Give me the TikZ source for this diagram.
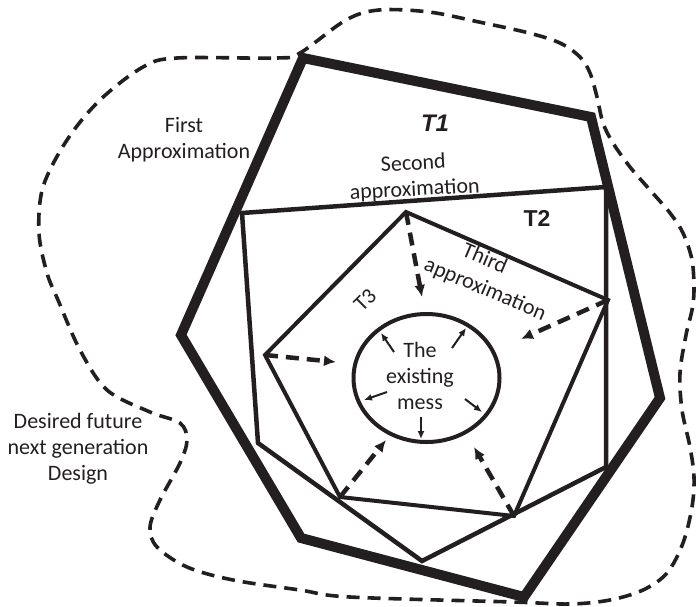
\documentclass[tikz,border=0pt]{standalone}
\usepackage{fontspec}
\setmainfont{Carlito}
\newfontfamily\arialfont{Liberation Sans}
\usetikzlibrary{arrows.meta}
\definecolor{ink}{HTML}{231F20}
\begin{document}
\begin{tikzpicture}[x=1pt,y=-1pt,
  txt/.style={font=\fontsize{22}{26}\selectfont, align=center, inner sep=0pt, text=ink},
  tbold/.style={font=\arialfont\bfseries\fontsize{23}{26}\selectfont, inner sep=0pt, text=ink},
  thickpoly/.style={draw=ink, line width=10pt, line join=miter},
  midpoly/.style={draw=ink, line width=4.5pt, line join=miter},
  innerpoly/.style={draw=ink, line width=4pt, line join=miter},
  blob/.style={draw=ink, line width=3.6pt, dash pattern=on 13pt off 8pt},
  darrow/.style={draw=ink, line width=4.5pt, dash pattern=on 13pt off 8pt, -{Latex[length=12pt,width=11pt]}},
  sarrow/.style={draw=ink, line width=2pt, -{Latex[length=8pt,width=7pt]}}]
\useasboundingbox (0,0) rectangle (696,606);

% outer dashed boundary
\draw[blob] plot[smooth cycle, tension=0.55] coordinates {
 (177,58) (277,58) (300,53) (346,20) (379,10) (429,12) (479,22) (529,33) (560,43)
 (580,57) (590,73) (597,97) (603,123) (613,143) (630,167) (650,190) (670,213)
 (683,233) (692,260) (694,290) (692,310) (686,335) (680,373) (682,410) (690,447)
 (694,477) (692,507) (683,543) (667,573) (643,590) (610,600) (570,604) (513,602)
 (350,597) (300,590) (233,580) (187,567) (157,547) (150,527) (160,500) (180,463)
 (187,440) (180,423) (150,412) (107,390) (80,350) (58,300) (47,273) (39,233)
 (43,187) (67,140) (100,100) (143,67)};

% first approximation (T1)
\coordinate (A) at (303,58);
\coordinate (B) at (591,117);
\coordinate (C) at (660,398);
\coordinate (D) at (524,597);
\coordinate (E) at (301,538);
\coordinate (F) at (181,335);
\draw[thickpoly] (A) -- (B) -- (C) -- (D) -- (E) -- (F) -- cycle;

% second approximation (T2)
\coordinate (G) at (242,213);
\coordinate (H) at (606,187);
\coordinate (I) at (606,467);
\coordinate (J) at (422,561);
\coordinate (K) at (258,443);
\draw[midpoly] (G) -- (H) -- (I) -- (J) -- (K) -- cycle;

% third approximation (T3)
\coordinate (L) at (406,212);
\coordinate (M) at (608,300);
\coordinate (N) at (514,516);
\coordinate (O) at (340,497);
\coordinate (P) at (265,355);
\draw[innerpoly] (L) -- (M) -- (N) -- (O) -- (P) -- cycle;

% existing mess
\draw[draw=ink, line width=4pt] (426.5,378) ellipse [x radius=73, y radius=64];
\node[txt] (mess) at (420,375.5) {The\\existing\\mess};

% dashed arrows towards the mess
\coordinate (dL) at (422,297);
\coordinate (dM) at (521,339);
\coordinate (dP) at (336,362);
\coordinate (dO) at (386,440);
\coordinate (dN) at (474,447);
\draw[darrow] (L) -- (dL);
\draw[darrow] (M) -- (dM);
\draw[darrow] (P) -- (dP);
\draw[darrow] (O) -- (dO);
\draw[darrow] (N) -- (dN);

% small arrows inside the mess
\coordinate (s1a) at (394,352); \coordinate (s1b) at (381,333);
\coordinate (s2a) at (452,348); \coordinate (s2b) at (466,328);
\coordinate (s3a) at (387,392); \coordinate (s3b) at (364,400);
\coordinate (s4a) at (465,399); \coordinate (s4b) at (482,412);
\coordinate (s5a) at (421,417); \coordinate (s5b) at (421,439);
\draw[sarrow] (s1a) -- (s1b);
\draw[sarrow] (s2a) -- (s2b);
\draw[sarrow] (s3a) -- (s3b);
\draw[sarrow] (s4a) -- (s4b);
\draw[sarrow] (s5a) -- (s5b);

% labels
\node[txt] (first) at (184,140) {First\\Approximation};
\node[txt] (desired) at (78,449) {Desired future\\next generation\\Design};
\node[txt, rotate=3] (second) at (414,177) {Second\\approximation};
\node[txt, font=\fontsize{22}{28}\selectfont, rotate=-23] (third) at (490.5,277) {Third\rule{25pt}{0pt}\\approximation};
\node[tbold, font=\arialfont\bfseries\itshape\fontsize{24}{26}\selectfont] (t1) at (435,123) {T1};
\node[tbold] (t2) at (537,218) {T2};
\node[txt, rotate=45] (t3) at (365,300) {T3};
\end{tikzpicture}
\end{document}
